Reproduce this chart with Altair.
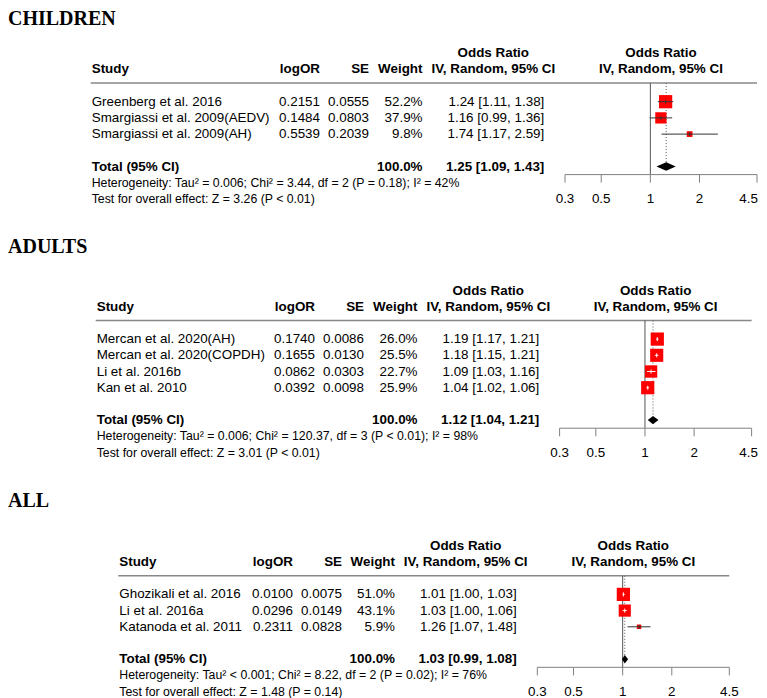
import math
import altair as alt
import pandas as pd

SANS = "Liberation Sans"
SERIF = "Liberation Serif"
ROW = 16.2      # pixels per text row
FS = 13.4       # table font size
FS_HET = 12.3   # heterogeneity / test font size
CHART_W = 751
CHART_H = 690
AXIS_TICKS = [0.3, 0.5, 1, 2, 4.5]
AXIS_LABELS = ["0.3", "0.5", "1", "2", "4.5"]

# ---------------- CHILDREN ----------------
c_study = ["Greenberg et al. 2016", "Smargiassi et al. 2009(AEDV)", "Smargiassi et al. 2009(AH)"]
c_logor = [0.2151, 0.1484, 0.5539]
c_se = [0.0555, 0.0803, 0.2039]
c_weight = [52.2, 37.9, 9.8]
c_or = [1.24, 1.16, 1.74]
c_lo = [1.11, 0.99, 1.17]
c_hi = [1.38, 1.36, 2.59]
c_total = [1.25, 1.09, 1.43]
c_total_weight = 100.0
c_het = "Heterogeneity: Tau\u00b2 = 0.006; Chi\u00b2 = 3.44, df = 2 (P = 0.18); I\u00b2 = 42%"
c_test = "Test for overall effect: Z = 3.26 (P < 0.01)"

# ---------------- ADULTS ----------------
a_study = ["Mercan et al. 2020(AH)", "Mercan et al. 2020(COPDH)", "Li et al. 2016b", "Kan et al. 2010"]
a_logor = [0.1740, 0.1655, 0.0862, 0.0392]
a_se = [0.0086, 0.0130, 0.0303, 0.0098]
a_weight = [26.0, 25.5, 22.7, 25.9]
a_or = [1.19, 1.18, 1.09, 1.04]
a_lo = [1.17, 1.15, 1.03, 1.02]
a_hi = [1.21, 1.21, 1.16, 1.06]
a_total = [1.12, 1.04, 1.21]
a_total_weight = 100.0
a_het = "Heterogeneity: Tau\u00b2 = 0.006; Chi\u00b2 = 120.37, df = 3 (P < 0.01); I\u00b2 = 98%"
a_test = "Test for overall effect: Z = 3.01 (P < 0.01)"

# ---------------- ALL ----------------
l_study = ["Ghozikali et al. 2016", "Li et al. 2016a", "Katanoda et al. 2011"]
l_logor = [0.0100, 0.0296, 0.2311]
l_se = [0.0075, 0.0149, 0.0828]
l_weight = [51.0, 43.1, 5.9]
l_or = [1.01, 1.03, 1.26]
l_lo = [1.00, 1.00, 1.07]
l_hi = [1.03, 1.06, 1.48]
l_total = [1.03, 0.99, 1.08]
l_total_weight = 100.0
l_het = "Heterogeneity: Tau\u00b2 < 0.001; Chi\u00b2 = 8.22, df = 2 (P = 0.02); I\u00b2 = 76%"
l_test = "Test for overall effect: Z = 1.48 (P = 0.14)"

panels = [
    dict(title="CHILDREN", study=c_study, logor=c_logor, se=c_se, weight=c_weight,
         est=c_or, lo=c_lo, hi=c_hi, total=c_total, tw=c_total_weight, het=c_het, test=c_test,
         y0=61.3, title_row=-2.735, sx=83.7, lx=312.0, sex=361.0, wx=414.5, orx=536.3,
         fx=(557.0, 749.0)),
    dict(title="ADULTS", study=a_study, logor=a_logor, se=a_se, weight=a_weight,
         est=a_or, lo=a_lo, hi=a_hi, total=a_total, tw=a_total_weight, het=a_het, test=a_test,
         y0=298.7, title_row=-3.33, sx=88.7, lx=307.0, sex=356.0, wx=409.5, orx=531.3,
         fx=(551.6, 743.6)),
    dict(title="ALL", study=l_study, logor=l_logor, se=l_se, weight=l_weight,
         est=l_or, lo=l_lo, hi=l_hi, total=l_total, tw=l_total_weight, het=l_het, test=l_test,
         y0=554.0, title_row=-3.38, sx=111.3, lx=285.0, sex=334.0, wx=387.0, orx=508.7,
         fx=(529.3, 721.3)),
]

MAX_AREA = 175.0
LOG_SPAN = math.log(4.5 / 0.3)


def ci_text(e, l, h):
    return f"{e:.2f} [{l:.2f}, {h:.2f}]"


def build_panel(p):
    n = len(p["study"])
    T = n + 3  # total row
    fx0, fx1 = p["fx"]
    fc = (fx0 + fx1) / 2
    orc = p["orx"] - 51
    ysc = alt.Scale(domain=[0, 10], range=[p["y0"], p["y0"] + 10 * ROW], nice=False, zero=False)
    xsc = alt.Scale(type="log", domain=[0.3, 4.5], range=[fx0, fx1], nice=False)

    def Y(f="row"):
        return alt.Y(f"{f}:Q", scale=ysc, axis=None)

    def X(f):
        return alt.X(f"{f}:Q", scale=xsc, axis=None)

    def txt(rows, labels, x, align, bold=False, size=FS, font=SANS, baseline="middle"):
        df = pd.DataFrame({"row": rows, "label": labels})
        return alt.Chart(df).mark_text(
            align=align, baseline=baseline, font=font, fontSize=size,
            fontWeight="bold" if bold else "normal", color="black"
        ).encode(x=alt.value(x), y=Y(), text=alt.Text("label:N"))

    rows = list(range(2, n + 2))
    layers = []
    # title
    layers.append(txt([p["title_row"]], [p["title"]], 0, "left", bold=True, size=20,
                      font=SERIF, baseline="alphabetic"))
    # header
    layers.append(txt([-1], ["Odds Ratio"], orc, "center", bold=True))
    layers.append(txt([-1], ["Odds Ratio"], fc, "center", bold=True))
    layers.append(txt([0], ["Study"], p["sx"], "left", bold=True))
    layers.append(txt([0], ["logOR"], p["lx"], "right", bold=True))
    layers.append(txt([0], ["SE"], p["sex"], "right", bold=True))
    layers.append(txt([0], ["Weight"], p["wx"], "right", bold=True))
    layers.append(txt([0], ["IV, Random, 95% CI"], orc, "center", bold=True))
    layers.append(txt([0], ["IV, Random, 95% CI"], fc, "center", bold=True))
    # study rows
    layers.append(txt(rows, p["study"], p["sx"], "left"))
    layers.append(txt(rows, [f"{v:.4f}" for v in p["logor"]], p["lx"], "right"))
    layers.append(txt(rows, [f"{v:.4f}" for v in p["se"]], p["sex"], "right"))
    layers.append(txt(rows, [f"{v:.1f}%" for v in p["weight"]], p["wx"], "right"))
    layers.append(txt(rows, [ci_text(e, l, h) for e, l, h in zip(p["est"], p["lo"], p["hi"])],
                      p["orx"], "right"))
    # total row
    layers.append(txt([T], ["Total (95% CI)"], p["sx"], "left", bold=True))
    layers.append(txt([T], [f"{p['tw']:.1f}%"], p["wx"], "right", bold=True))
    layers.append(txt([T], [ci_text(*p["total"])], p["orx"], "right", bold=True))
    layers.append(txt([T + 1], [p["het"]], p["sx"], "left", size=FS_HET))
    layers.append(txt([T + 2], [p["test"]], p["sx"], "left", size=FS_HET))

    # header rule
    layers.append(alt.Chart(pd.DataFrame({"row": [0.85]})).mark_rule(
        color="#888888", strokeWidth=1.5).encode(
        x=alt.value(p["sx"] - 1), x2=alt.value(fx1), y=Y()))

    # no-effect line at 1
    layers.append(alt.Chart(pd.DataFrame({"v": [1.0], "row": [0.85], "row2": [T + 0.5]})).mark_rule(
        color="#555555", strokeWidth=1).encode(x=X("v"), y=Y(), y2=alt.Y2("row2:Q")))
    # summary dotted line
    layers.append(alt.Chart(pd.DataFrame({"v": [p["total"][0]], "row": [0.85],
                                          "row2": [T - 0.27]})).mark_rule(
        color="#555555", strokeWidth=1, strokeDash=[1, 2]).encode(
        x=X("v"), y=Y(), y2=alt.Y2("row2:Q")))

    # study squares and CIs
    wmax = max(p["weight"])
    ci_col = []
    for w, l, h in zip(p["weight"], p["lo"], p["hi"]):
        side = math.sqrt(MAX_AREA * w / wmax)
        width_px = math.log(h / l) / LOG_SPAN * (fx1 - fx0)
        ci_col.append("white" if width_px < side else "#333333")
    sdf = pd.DataFrame({"row": rows, "est": p["est"], "lo": p["lo"], "hi": p["hi"],
                        "w": p["weight"], "col": ci_col})
    layers.append(alt.Chart(sdf).mark_square(filled=True, color="#ff0000", opacity=1).encode(
        x=X("est"), y=Y(),
        size=alt.Size("w:Q", scale=alt.Scale(domain=[0, wmax], range=[0, MAX_AREA]), legend=None)))
    layers.append(alt.Chart(sdf).mark_rule(strokeWidth=1).encode(
        x=X("lo"), x2=alt.X2("hi:Q"), y=Y(), color=alt.Color("col:N", scale=None)))
    layers.append(alt.Chart(sdf).mark_point(shape="M0,-1L0,1", size=16, filled=False,
                                            strokeWidth=1, opacity=1).encode(
        x=X("est"), y=Y(), color=alt.Color("col:N", scale=None)))

    # diamond
    e, l, h = p["total"]
    ddf = pd.DataFrame({"v": [l, e, h], "row": [T, T - 0.26, T], "row2": [T, T + 0.26, T]})
    layers.append(alt.Chart(ddf).mark_area(orient="vertical", color="black", opacity=1).encode(
        x=X("v"), y=Y(), y2=alt.Y2("row2:Q")))

    # axis
    layers.append(alt.Chart(pd.DataFrame({"a": [0.3], "b": [4.5], "row": [T + 0.5]})).mark_rule(
        color="#808080", strokeWidth=1).encode(x=X("a"), x2=alt.X2("b:Q"), y=Y()))
    tdf = pd.DataFrame({"v": AXIS_TICKS, "lab": AXIS_LABELS,
                        "row": [T + 0.5] * 5, "row2": [T + 1.0] * 5, "lrow": [T + 2] * 5})
    layers.append(alt.Chart(tdf).mark_rule(color="#808080", strokeWidth=1).encode(
        x=X("v"), y=Y(), y2=alt.Y2("row2:Q")))
    # tick labels; the last one is nudged inwards only if it would be cut at the edge
    half_w = 1.39 * FS / 2
    dx_last = min(0.0, (CHART_W - 1) - (fx1 + half_w))
    layers.append(alt.Chart(tdf.iloc[:-1]).mark_text(
        font=SANS, fontSize=FS, color="black", align="center", baseline="middle").encode(
        x=X("v"), y=Y("lrow"), text=alt.Text("lab:N")))
    layers.append(alt.Chart(tdf.iloc[-1:]).mark_text(
        font=SANS, fontSize=FS, color="black", align="center", baseline="middle",
        dx=dx_last).encode(
        x=X("v"), y=Y("lrow"), text=alt.Text("lab:N")))

    return alt.layer(*layers)


chart = alt.layer(*[build_panel(p) for p in panels]).resolve_scale(
    x="independent", y="independent", size="independent"
).properties(
    width=CHART_W, height=CHART_H, padding=0,
    autosize=alt.AutoSizeParams(type="none"),
).configure_view(stroke=None)

chart.save("out.html", embed_options={"renderer": "svg", "actions": False})
